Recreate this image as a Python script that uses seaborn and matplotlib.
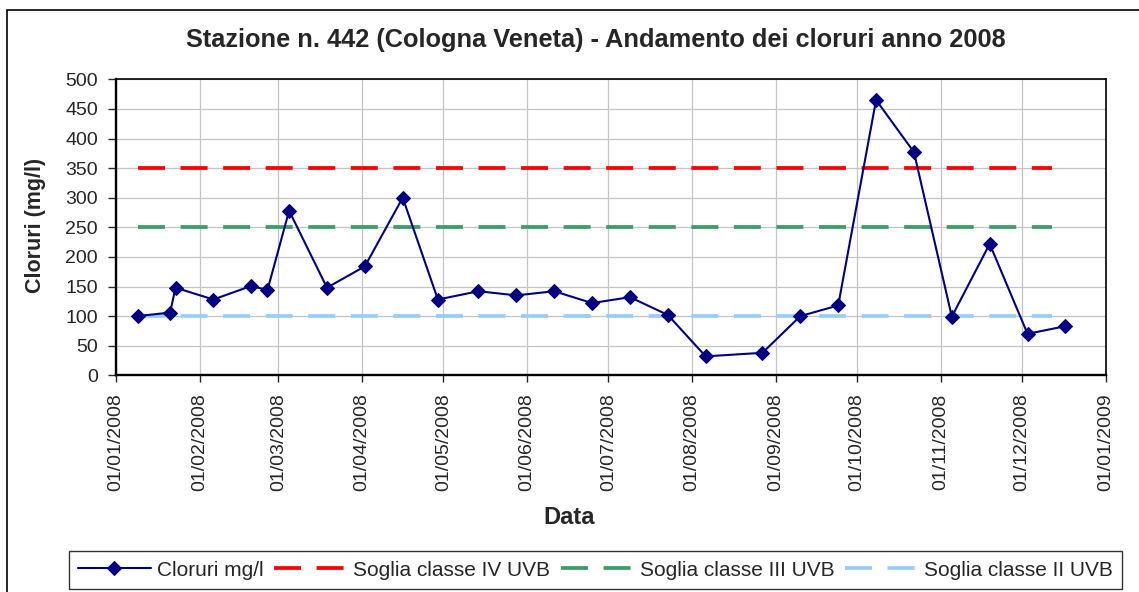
import pandas as pd
import numpy as np
import matplotlib
matplotlib.use('Agg')
import matplotlib.pyplot as plt
import matplotlib.dates as mdates
from matplotlib.patches import Rectangle
import seaborn as sns

# sample dates and chloride values (mg/l)
dates = ['2008-01-09', '2008-01-21', '2008-01-23', '2008-02-06', '2008-02-20', '2008-02-26',
         '2008-03-05', '2008-03-19', '2008-04-02', '2008-04-16', '2008-04-29', '2008-05-14',
         '2008-05-28', '2008-06-11', '2008-06-25', '2008-07-09', '2008-07-23', '2008-08-06',
         '2008-08-27', '2008-09-10', '2008-09-24', '2008-10-08', '2008-10-22', '2008-11-05',
         '2008-11-19', '2008-12-03', '2008-12-17']
cloruri = [100, 106, 148, 128, 151, 144, 278, 148, 184, 300, 128, 142, 135, 142, 122, 132,
           102, 32, 38, 100, 118, 465, 377, 99, 222, 70, 83]

# thresholds
soglia_names = ['Soglia classe IV UVB', 'Soglia classe III UVB', 'Soglia classe II UVB']
soglia_values = [350, 250, 100]
soglia_colors = ['#FF0000', '#3A9D68', '#99CCFF']
soglia_span = ['2008-01-09', '2008-12-12']

month_ticks = pd.date_range('2008-01-01', '2009-01-01', freq='MS')

sns.set_style('white')
plt.rcParams['font.family'] = ['Liberation Sans', 'DejaVu Sans']

df = pd.DataFrame({'Data': pd.to_datetime(dates), 'Cloruri': cloruri})

fig = plt.figure(figsize=(11.39, 5.92), dpi=100)
ax = fig.add_axes([116 / 1139, 1 - 375.3 / 592, 990 / 1139, 296 / 592])

sns.lineplot(data=df, x='Data', y='Cloruri', ax=ax, color='#000080', linewidth=1.5,
             marker='D', markersize=6.8, markeredgecolor='#000080', label='Cloruri mg/l',
             zorder=5)

for name, val, col in zip(soglia_names, soglia_values, soglia_colors):
    tdf = pd.DataFrame({'Data': pd.to_datetime(soglia_span), 'v': [val, val]})
    sns.lineplot(data=tdf, x='Data', y='v', ax=ax, color=col, linewidth=2.7,
                 label=name, zorder=3)
    ax.lines[-1].set_dashes((7.2, 4.15))
    ax.lines[-1].set_dash_capstyle('butt')

ax.set_xlim(pd.Timestamp('2008-01-01'), pd.Timestamp('2009-01-01'))
ax.set_ylim(0, 500)
ax.set_yticks(np.arange(0, 501, 50))
ax.set_xticks(month_ticks)
ax.xaxis.set_major_formatter(mdates.DateFormatter('%d/%m/%Y'))
ax.tick_params(axis='x', rotation=90, labelsize=14, length=5, width=1, direction='out', pad=8,
               bottom=True)
ax.tick_params(axis='y', labelsize=14, length=6, width=1, direction='out', pad=7, left=True)
ax.grid(True, color='#C4C4C4', lw=0.9)
ax.set_axisbelow(True)
for s in ax.spines.values():
    s.set_color('black')
    s.set_linewidth(1.2)
ax.spines['left'].set_linewidth(1.7)
ax.spines['bottom'].set_linewidth(1.7)
ax.set_xlabel('')
ax.set_ylabel('')
ax.get_legend().remove()

fig.text(596 / 1139, 1 - 40 / 592, 'Stazione n. 442 (Cologna Veneta) - Andamento dei cloruri anno 2008',
         ha='center', va='center', fontsize=18.3, fontweight='bold')
fig.text(35 / 1139, 1 - 225 / 592, 'Cloruri (mg/l)', rotation=90, ha='center', va='center',
         fontsize=15.5, fontweight='bold')
fig.text(569 / 1139, 1 - 518 / 592, 'Data', ha='center', va='center', fontsize=17,
         fontweight='bold')

handles, labels = ax.get_legend_handles_labels()
leg = fig.legend(handles, labels, loc='center', bbox_to_anchor=(595.5 / 1139, 1 - 570 / 592),
                 ncol=4, fontsize=15, frameon=True, fancybox=False, edgecolor='black',
                 handlelength=3.5, handletextpad=0.3, columnspacing=0.5, borderpad=0.45)
leg.get_frame().set_linewidth(1.0)

# outer chart frame
fig.patches.append(Rectangle((6.5 / 1139, -0.1), 1.2, 1.1 - 10 / 592,
                             transform=fig.transFigure, fill=False, edgecolor='black',
                             lw=1.2, clip_on=False))

fig.savefig('out.png', dpi=100)
